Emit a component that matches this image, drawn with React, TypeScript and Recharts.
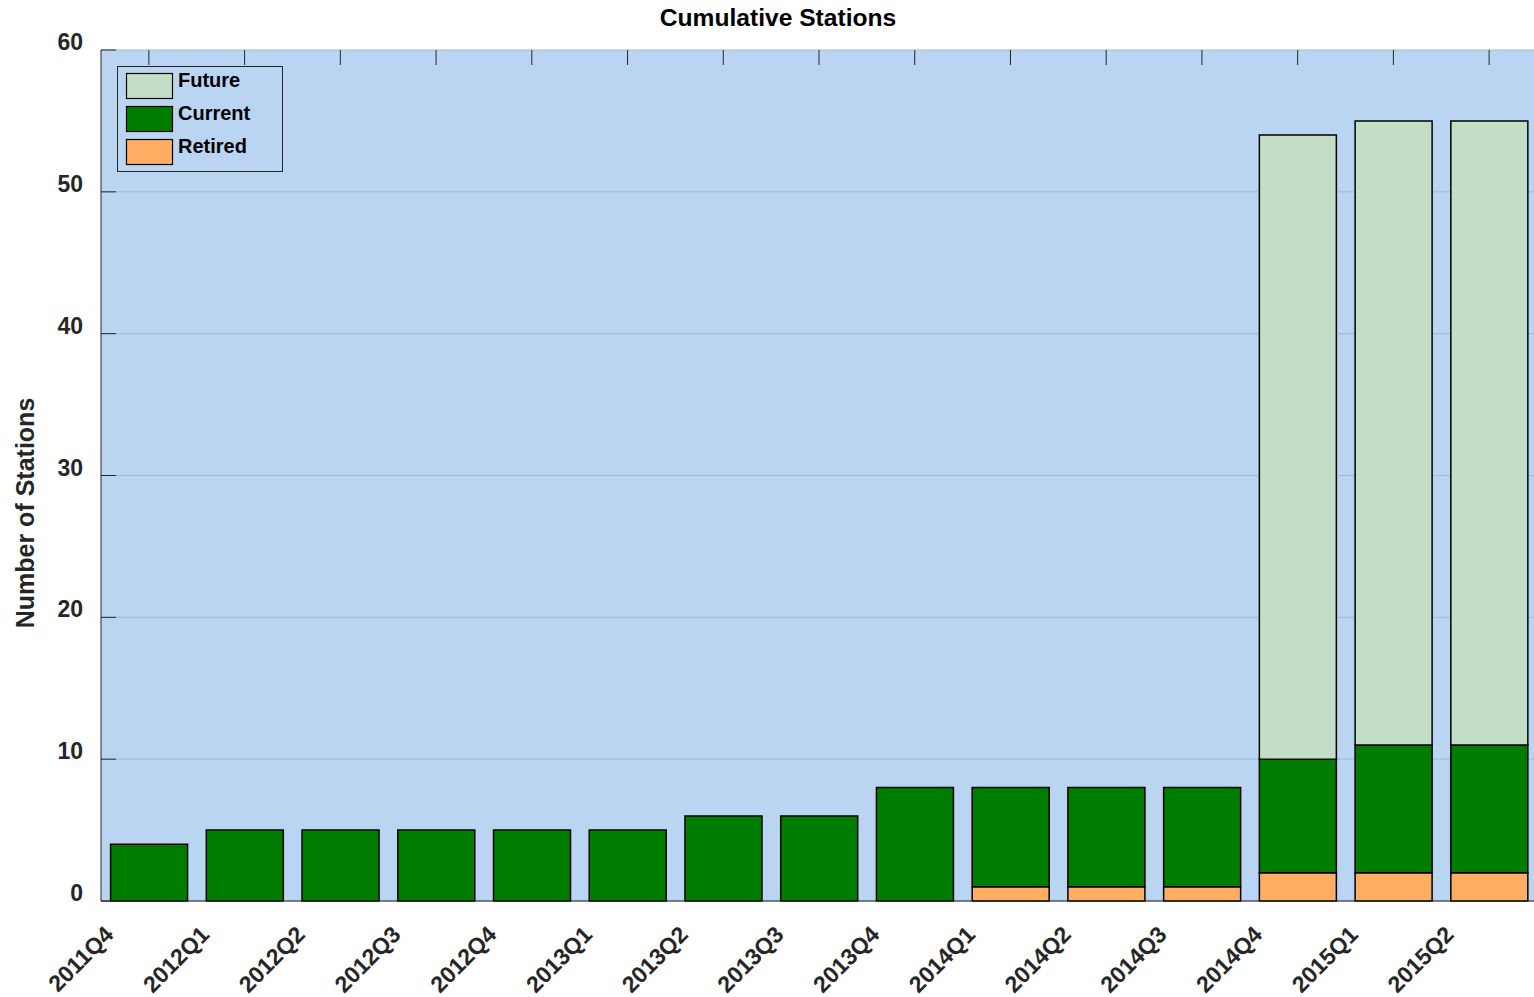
import { BarChart, Bar, XAxis, YAxis, CartesianGrid, Legend } from "recharts";

const quarters = [
  "2011Q4", "2012Q1", "2012Q2", "2012Q3", "2012Q4",
  "2013Q1", "2013Q2", "2013Q3", "2013Q4",
  "2014Q1", "2014Q2", "2014Q3", "2014Q4",
  "2015Q1", "2015Q2",
];
const retired = [0, 0, 0, 0, 0, 0, 0, 0, 0, 1, 1, 1, 2, 2, 2];
const current = [4, 5, 5, 5, 5, 5, 6, 6, 8, 7, 7, 7, 8, 9, 9];
const future = [0, 0, 0, 0, 0, 0, 0, 0, 0, 0, 0, 0, 44, 44, 44];
const yTicks = [0, 10, 20, 30, 40, 50, 60];

const data = quarters.map((q, i) => ({
  q,
  retired: retired[i],
  current: current[i],
  future: future[i],
}));

const FONT = '"Liberation Sans", Arial, Helvetica, sans-serif';
const BG = "#b9d5f2";
const AXIS = "#262626";
const PLOT_TOP = 50;

const series = [
  { key: "future", name: "Future", color: "#c2dec7" },
  { key: "current", name: "Current", color: "#007c00" },
  { key: "retired", name: "Retired", color: "#ffad63" },
];

function YTick({ x, y, payload }: any) {
  return (
    <g>
      <line x1={x} x2={x + 15} y1={y} y2={y} stroke={AXIS} strokeWidth={1} />
      <text x={x - 18} y={y} textAnchor="end" fontFamily={FONT} fontWeight="bold" fontSize={23} fill={AXIS}>
        {payload.value}
      </text>
    </g>
  );
}

function RightTick({ x, y }: any) {
  return <line x1={x} x2={x - 15} y1={y} y2={y} stroke={AXIS} strokeWidth={1} />;
}

// bottom labels, plus the inward tick marks on the top edge of the box
function XTick({ x, y, payload }: any) {
  return (
    <g>
      <line x1={x} x2={x} y1={PLOT_TOP} y2={PLOT_TOP + 15} stroke={AXIS} strokeWidth={1} />
      <text
        transform={`translate(${x - 34},${y + 35}) rotate(-45)`}
        textAnchor="end"
        fontFamily={FONT}
        fontWeight="bold"
        fontSize={23}
        fill={AXIS}
      >
        {payload.value}
      </text>
    </g>
  );
}

function LegendBox() {
  return (
    <svg width={166} height={106} style={{ display: "block" }}>
      <rect x={0.5} y={0.5} width={165} height={105} fill={BG} stroke={AXIS} strokeWidth={1} />
      {series.map((s, i) => (
        <g key={s.key}>
          <rect x={9.5} y={7.5 + i * 33} width={46} height={25} fill={s.color} stroke="#000" strokeWidth={1.2} />
          <text x={61} y={21 + i * 33} fontFamily={FONT} fontWeight="bold" fontSize={20} fill="#000">
            {s.name}
          </text>
        </g>
      ))}
    </svg>
  );
}

function YLabel() {
  return (
    <text
      transform="translate(25,513) rotate(-90)"
      textAnchor="middle"
      dominantBaseline="central"
      fontFamily={FONT}
      fontWeight="bold"
      fontSize={25}
      fill={AXIS}
    >
      Number of Stations
    </text>
  );
}

export default function App() {
  return (
    <div style={{ position: "absolute", left: 0, top: 0, width: 1534, height: 997, overflow: "hidden", background: "#fff" }}>
      <div
        style={{
          position: "absolute",
          left: 0,
          width: 1556,
          top: 5,
          textAlign: "center",
          fontFamily: FONT,
          fontWeight: "bold",
          fontSize: 24.6,
          color: "#000",
          lineHeight: "26px",
        }}
      >
        Cumulative Stations
      </div>
      <BarChart
        width={1542}
        height={997}
        data={data}
        margin={{ top: PLOT_TOP, right: 5, left: 0, bottom: 0 }}
        barCategoryGap="10%"
      >
        <CartesianGrid vertical={false} stroke="#a1b9d6" fill={BG} fillOpacity={1} />
        <XAxis
          dataKey="q"
          height={96}
          interval={0}
          tickLine={false}
          tickSize={0}
          tickMargin={0}
          axisLine={{ stroke: AXIS }}
          tick={<XTick />}
        />
        <YAxis
          width={101}
          domain={[0, 60]}
          ticks={yTicks}
          interval={0}
          tickLine={false}
          tickSize={0}
          tickMargin={0}
          axisLine={{ stroke: AXIS }}
          tick={<YTick />}
          label={<YLabel />}
        />
        <YAxis
          yAxisId="right"
          orientation="right"
          width={0}
          mirror
          domain={[0, 60]}
          ticks={yTicks}
          interval={0}
          tickLine={false}
          tickSize={0}
          axisLine={{ stroke: AXIS }}
          tick={<RightTick />}
        />
        <Legend
          layout="horizontal"
          align="center"
          verticalAlign="middle"
          wrapperStyle={{ left: 117, top: 66, width: 166, height: 106 }}
          content={() => <LegendBox />}
        />
        {series
          .slice()
          .reverse()
          .map((s) => (
            <Bar
              key={s.key}
              dataKey={s.key}
              name={s.name}
              stackId="a"
              fill={s.color}
              stroke="#000"
              strokeWidth={1.5}
              isAnimationActive={false}
            />
          ))}
      </BarChart>
    </div>
  );
}
